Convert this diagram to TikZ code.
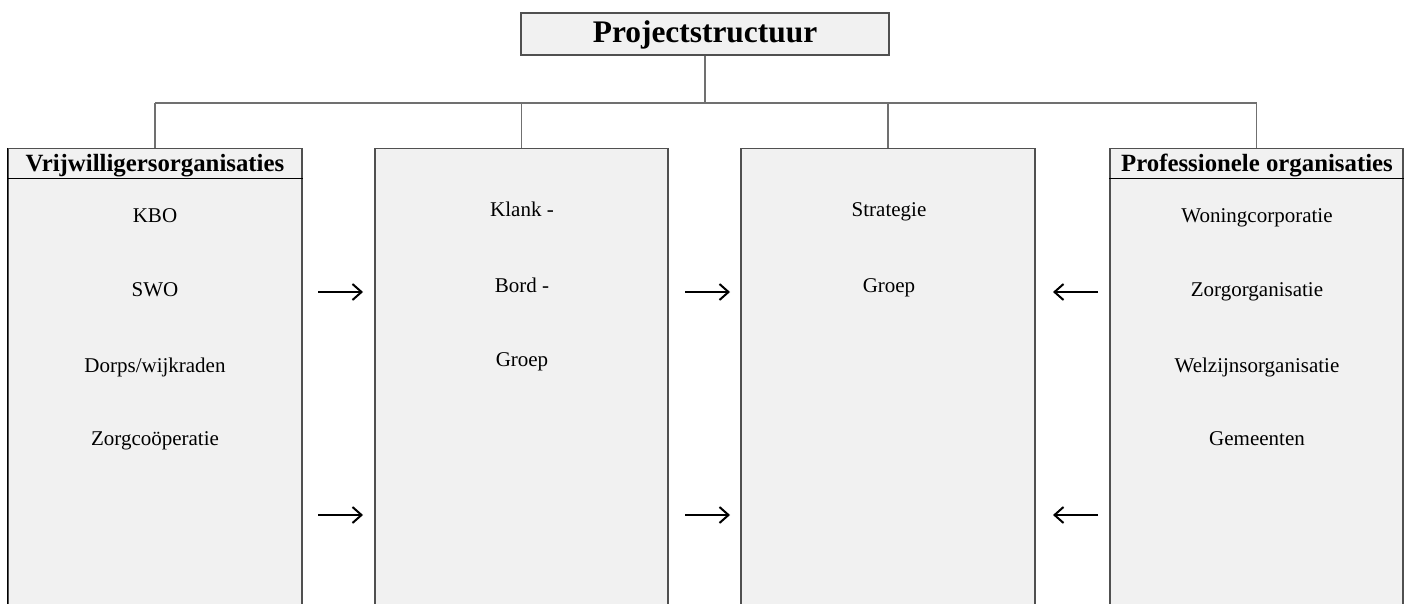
\documentclass[tikz,border=0pt]{standalone}
\usepackage{fontspec}
\setmainfont{Liberation Serif}
\usetikzlibrary{arrows.meta}
\definecolor{boxfill}{HTML}{F1F1F1}
\definecolor{boxline}{HTML}{505050}
\definecolor{connline}{HTML}{707070}
\begin{document}
\begin{tikzpicture}[x=1pt,y=-1pt,
  colbox/.style={draw=boxline,fill=boxfill,line width=1.3pt,rectangle,inner sep=0pt,minimum width=#1,minimum height=470pt,anchor=north},
  titlebox/.style={draw=boxline,fill=boxfill,line width=1.3pt,rectangle,inner sep=0pt,minimum width=368pt,minimum height=42pt},
  conn/.style={draw=connline,line width=1.3pt},
  flow/.style={draw=black,line width=2pt,-{Straight Barb[length=9pt,width=16pt,line width=2pt]}},
  item/.style={anchor=base,inner sep=0pt,font=\fontsize{21}{25}\selectfont},
  head/.style={anchor=base,inner sep=0pt,font=\fontsize{24.8}{28}\selectfont\bfseries},
  ttl/.style={anchor=base,inner sep=0pt,font=\fontsize{31.4}{36}\selectfont\bfseries}]
\useasboundingbox (0,0) rectangle (1409,604);
\clip (0,0) rectangle (1409,604);
% boxes
\node[colbox=294pt] (b1) at (155,148) {};
\node[colbox=293pt] (b2) at (521.5,148) {};
\node[colbox=294pt] (b3) at (888,148) {};
\node[colbox=293pt] (b4) at (1256.5,148) {};
\draw[black,line width=1.6pt] (b1.north west) -- (b1.south west);
\node[titlebox] (t) at (705,34) {};
\node[ttl] (tt) at (705,43) {Projectstructuur};
% tree
\coordinate (h) at (706,103);
\draw[conn] (t.south) -- (t.south |- h);
\draw[conn] (b1.north |- h) -- (b4.north |- h);
\draw[conn] (b1.north |- h) -- (b1.north);
\draw[conn] (b2.north |- h) -- (b2.north);
\draw[conn] (b3.north |- h) -- (b3.north);
\draw[conn] (b4.north |- h) -- (b4.north);
% headers
\draw[black,line width=1pt] (b1.north west |- 0,179) -- (b1.north east |- 0,179);
\draw[black,line width=1pt] (b4.north west |- 0,179) -- (b4.north east |- 0,179);
\node[head] (h1) at (155,172) {Vrijwilligersorganisaties};
\node[head] (h4) at (1257,172) {Professionele organisaties};
% items
\node[item] (k1) at (155,223) {KBO};
\node[item] (k2) at (155,297) {SWO};
\node[item] (k3) at (155,372) {Dorps/wijkraden};
\node[item] (k4) at (155,445) {Zorgcoöperatie};
\node[item] (m1) at (522,217) {Klank -};
\node[item] (m2) at (522,292) {Bord -};
\node[item] (m3) at (522,366) {Groep};
\node[item] (s1) at (889,217) {Strategie};
\node[item] (s2) at (889,292) {Groep};
\node[item] (p1) at (1257,223) {Woningcorporatie};
\node[item] (p2) at (1257,297) {Zorgorganisatie};
\node[item] (p3) at (1257,372) {Welzijnsorganisatie};
\node[item] (p4) at (1257,445) {Gemeenten};
% arrows
\coordinate (a1s) at (318,292); \coordinate (a1e) at (363,292);
\coordinate (a2s) at (318,515); \coordinate (a2e) at (363,515);
\coordinate (a3s) at (685,292); \coordinate (a3e) at (730,292);
\coordinate (a4s) at (685,515); \coordinate (a4e) at (730,515);
\coordinate (a5s) at (1098,292); \coordinate (a5e) at (1053,292);
\coordinate (a6s) at (1098,515); \coordinate (a6e) at (1053,515);
\draw[flow] (a1s) -- (a1e);
\draw[flow] (a2s) -- (a2e);
\draw[flow] (a3s) -- (a3e);
\draw[flow] (a4s) -- (a4e);
\draw[flow] (a5s) -- (a5e);
\draw[flow] (a6s) -- (a6e);
\end{tikzpicture}
\end{document}
